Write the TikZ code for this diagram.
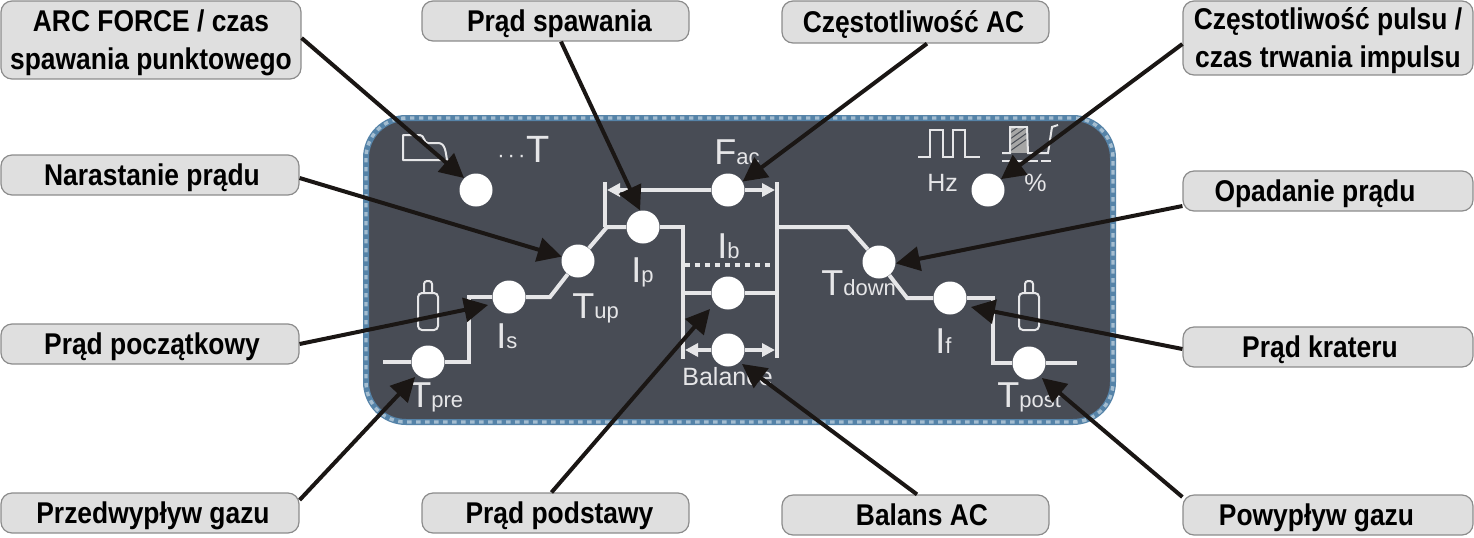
\documentclass[tikz,border=0pt]{standalone}
\usepackage{fontspec}
\setmainfont{Liberation Sans}
\newfontfamily\labfont{Liberation Sans}[FakeStretch=0.88]
\usetikzlibrary{arrows.meta}
\definecolor{panelc}{HTML}{484C55}
\definecolor{edgec}{HTML}{5583A8}
\definecolor{edged}{HTML}{A4BDD0}
\definecolor{wirec}{HTML}{E6E6E8}
\definecolor{boxc}{HTML}{DFDFDF}
\definecolor{boxe}{HTML}{8C8C8C}
\definecolor{arrc}{HTML}{1A1614}
\newcommand{\lbig}[1]{{\fontsize{18}{18}\selectfont #1}}
\newcommand{\lsml}[1]{{\fontsize{11}{11}\selectfont #1}}
\newcommand{\tright}[2]{\hbox{\kern#1 #2}}
\newcommand{\tleft}[2]{\hbox{#2\kern#1}}
\tikzset{
  x=.5pt,y=-.5pt,
  lab/.style={draw=boxe,line width=.6pt,fill=boxc,rounded corners=5.5pt,inner sep=0pt,align=center,text=black,
    font=\labfont\bfseries\fontsize{15}{19}\selectfont},
  labone/.style={lab,text height=13pt,text depth=3pt},
  knob/.style={circle,fill=white,inner sep=0pt,minimum size=16.5pt},
  wire/.style={draw=wirec,line width=2pt},
  thin wire/.style={draw=wirec,line width=1pt},
  harrow/.style={wire,-{Triangle[length=6.5pt,width=6.5pt]}},
  plab/.style={inner sep=0pt,anchor=base west,text=wirec},
  callout/.style={draw=arrc,line width=2pt,-{Triangle[length=12pt,width=12pt]}},
}
\begin{document}
\begin{tikzpicture}
\useasboundingbox (0,0) rectangle (1474,537);
% panel
\draw[fill=panelc,draw=edgec,line width=3pt,rounded corners=20pt] (366,118) rectangle (1113,422);
\draw[draw=edged,line width=1.7pt,rounded corners=20pt,dash pattern=on 2.2pt off 2.3pt] (366,118) rectangle (1113,422);
% panel labels
\node[plab] (lfac) at (714,164) {\lbig{F}\lsml{ac}};
\node[plab] (lib) at (717,258) {\lbig{I}\lsml{b}};
\node[plab] (lip) at (631,282) {\lbig{I}\lsml{p}};
\node[plab] (lis) at (496,348) {\lbig{I}\lsml{s}};
\node[plab] (ltup) at (572,318) {\lbig{T}\lsml{up}};
\node[plab] (ltpre) at (409,407) {\lbig{T}\lsml{pre}};
\node[plab] (ltdown) at (821,295) {\lbig{T}\lsml{down}};
\node[plab] (lif) at (935,353) {\lbig{I}\lsml{f}};
\node[plab] (ltpost) at (997,407) {\lbig{T}\lsml{post}};
\node[plab] (lbal) at (682,385) {\fontsize{12.5}{12.5}\selectfont Balance};
\node[plab] (lhz) at (927,191) {\fontsize{12.5}{12.5}\selectfont Hz};
\node[plab] (lpct) at (1024,191) {\fontsize{12.5}{12.5}\selectfont \%};
\node[plab] (ldots) at (497,162) {\fontsize{11}{11}\selectfont ·\kern1.5pt·\kern1.5pt·\kern.5pt\fontsize{19}{19}\selectfont T};
% icons
\draw[thin wire,line join=round] (455,160) -- (403,160) -- (403,135) -- (420,135) to[out=0,in=180] (428,143) -- (438,143) to[out=0,in=100] (447,160);
\draw[thin wire,rounded corners=2pt] (418,330) rectangle (438,293);
\draw[thin wire,rounded corners=1.5pt] (424,293) -- (424,281) -- (432,281) -- (432,293);
\draw[thin wire,rounded corners=2pt] (1019,330) rectangle (1039,293);
\draw[thin wire,rounded corners=1.5pt] (1025,293) -- (1025,281) -- (1033,281) -- (1033,293);
\draw[thin wire] (918,157) -- (930,157) -- (930,130) -- (943,130) -- (943,157) -- (953,157) -- (953,130) -- (965,130) -- (965,157) -- (980,157);
\fill[gray!70] (1010,127) rectangle (1027,153);
\foreach \d in {0,6,12,18}{\draw[panelc,line width=.5pt] (1010,133+\d) -- (1027,121+\d);}
\draw[thin wire] (1002,153) -- (1010,153) -- (1010,127) -- (1027,127) -- (1028,153) -- (1048,153) -- (1052,127) -- (1058,125);
\draw[thin wire,dash pattern=on 5pt off 1.5pt] (1002,161) -- (1054,161);
% knobs
\node[knob] (arc) at (476,190) {};
\node[knob] (fac) at (728,190) {};
\node[knob] (hz) at (988,190) {};
\node[knob] (tup) at (578,261) {};
\node[knob] (ip) at (643,227) {};
\node[knob] (ib) at (728,293) {};
\node[knob] (bal) at (728,350) {};
\node[knob] (is) at (509,297) {};
\node[knob] (tpre) at (428,362) {};
\node[knob] (tdown) at (879,262) {};
\node[knob] (if) at (950,298) {};
\node[knob] (tpost) at (1029,363) {};
% wires
\draw[wire] (383,362) -- (tpre);
\draw[wire,line join=miter] (tpre) -- (469,362) -- (469,297) -- (is);
\draw[wire] (is) -- (550,297) -- (tup);
\draw[wire] (tup) -- (607,227) -- (ip);
\draw[wire] (ip) -- (683,227) -- (683,359);
\draw[wire] (ib) -- (683,293);
\draw[wire] (605,182) -- (605,227);
\draw[harrow] (fac) -- (607,190);
\draw[harrow] (fac) -- (775,190);
\draw[harrow] (bal) -- (685,350);
\draw[harrow] (bal) -- (775,350);
\draw[wire] (777,182) -- (777,358);
\draw[wire] (ib) -- (777,293);
\draw[wire,dash pattern=on 2.6pt off 2.4pt] (685,265) -- (776,265);
\draw[wire] (777,227) -- (848,227) -- (tdown);
\draw[wire] (tdown) -- (907,298) -- (if);
\draw[wire] (if) -- (993,298) -- (993,363) -- (tpost);
\draw[wire] (tpost) -- (1077,363);
% label boxes
\node[lab,minimum width=150pt,minimum height=39pt] (b1) at (151,40) {\rule{0pt}{14pt}ARC FORCE / czas\\spawania punktowego};
\node[labone,minimum width=133.5pt,minimum height=20pt] (b2) at (555.5,21) {\tright{4pt}{Prąd spawania}};
\node[labone,minimum width=133.5pt,minimum height=21pt] (b3) at (915.5,22) {\tleft{2pt}{Częstotliwość AC}};
\node[lab,minimum width=145pt,minimum height=37pt] (b4) at (1328,38) {\rule{0pt}{14pt}Częstotliwość pulsu /\\czas trwania impulsu};
\node[labone,minimum width=149pt,minimum height=20pt] (b5) at (150,175) {\tright{2pt}{Narastanie prądu}};
\node[labone,minimum width=145pt,minimum height=20pt] (b6) at (1328,191) {\tleft{13pt}{Opadanie prądu}};
\node[labone,minimum width=149pt,minimum height=20pt] (b7) at (150,344) {\tright{2pt}{Prąd początkowy}};
\node[labone,minimum width=145pt,minimum height=20pt] (b8) at (1328,347) {\tleft{8pt}{Prąd krateru}};
\node[labone,minimum width=149pt,minimum height=20pt] (b9) at (150,513) {\tright{3pt}{Przedwypływ gazu}};
\node[labone,minimum width=133.5pt,minimum height=20pt] (b10) at (555.5,513) {\tright{4pt}{Prąd podstawy}};
\node[labone,minimum width=133.5pt,minimum height=20pt] (b11) at (915.5,515) {\tright{6.5pt}{Balans AC}};
\node[labone,minimum width=145pt,minimum height=20pt] (b12) at (1328,515) {\tleft{11.5pt}{Powypływ gazu}};
% callouts
\draw[callout] ([yshift=1pt]b1.east) -- (arc.135);
\draw[callout] ([xshift=2.75pt]b2.south) -- (ip.100);
\draw[callout] ([xshift=5.75pt]b3.south) -- (fac.30);
\draw[callout] ([yshift=-3pt]b4.west) -- (hz.40);
\draw[callout] ([yshift=-1.5pt]b5.east) -- (tup.165);
\draw[callout] ([yshift=-7.5pt]b6.west) -- (tdown.-5);
\draw[callout] (b7.east) -- ([xshift=-2pt,yshift=-4pt]is.west);
\draw[callout] ([yshift=-1pt]b8.west) -- ([xshift=2pt,yshift=-4.5pt]if.east);
\draw[callout] ([yshift=6.5pt]b9.east) -- ([xshift=-1pt,yshift=-1pt]tpre.-130);
\draw[callout] ([xshift=-2pt]b10.north) -- ([xshift=-3pt,yshift=-2pt]ib.-135);
\draw[callout] ([xshift=.75pt]b11.north) -- ([xshift=1pt,yshift=-1pt]bal.-45);
\draw[callout] ([yshift=9pt]b12.west) -- ([xshift=1pt,yshift=-1pt]tpost.-50);
\end{tikzpicture}
\end{document}
